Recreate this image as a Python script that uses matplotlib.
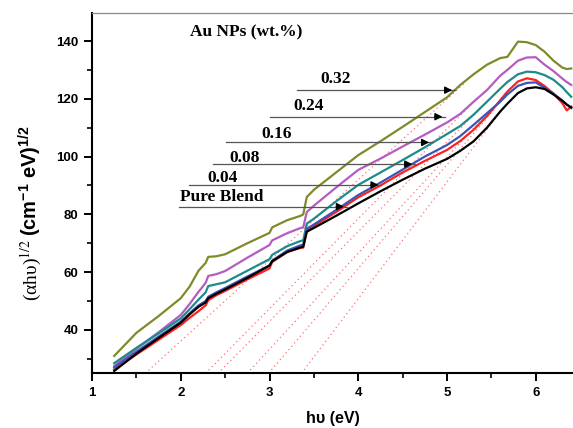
import matplotlib
matplotlib.use("Agg")
import matplotlib.pyplot as plt
from matplotlib.ticker import MultipleLocator

plt.rcParams['mathtext.fontset'] = 'custom'
plt.rcParams['mathtext.rm'] = 'Liberation Sans:bold'
plt.rcParams['mathtext.bf'] = 'Liberation Sans:bold'
plt.rcParams['mathtext.it'] = 'Liberation Sans:bold'

# photon energy grid (eV), shared by all curves
hv = [1.25, 1.5, 1.75, 2.0, 2.1, 2.2, 2.28, 2.31, 2.4, 2.5, 2.75, 3.0, 3.03, 3.2,
      3.35, 3.38, 3.42, 3.5, 3.75, 4.0, 4.25, 4.5, 4.75, 5.0, 5.15, 5.3, 5.45,
      5.6, 5.68, 5.8, 5.9, 6.0, 6.1, 6.2, 6.3, 6.35, 6.4]

au_032 = [31.0, 39.0, 44.8, 51.0, 55.0, 60.5, 63.2, 65.3, 65.5, 66.2, 70.0, 73.6, 75.5, 78.0,
          79.5, 80.0, 86.0, 88.5, 94.5, 100.5, 105.3, 110.3, 115.4, 120.5, 124.8, 128.5, 131.8,
          134.1, 134.5, 139.8, 139.6, 138.6, 136.3, 133.2, 130.8, 130.3, 130.5]
au_024 = [27.5, 33.5, 39.2, 45.2, 49.0, 53.2, 56.3, 58.7, 59.3, 60.4, 65.0, 69.4, 71.0, 73.5,
          75.3, 75.5, 80.8, 83.0, 89.3, 95.4, 99.3, 103.5, 107.6, 111.8, 114.8, 119.0, 123.0,
          128.0, 130.0, 133.2, 134.3, 134.4, 131.8, 129.6, 127.0, 125.8, 124.8]
au_016 = [28.5, 33.8, 38.8, 44.0, 47.2, 50.5, 53.0, 55.2, 55.8, 56.5, 60.5, 64.5, 66.0, 69.0,
          70.8, 71.0, 76.8, 78.5, 84.5, 90.2, 94.5, 98.8, 103.2, 107.8, 110.6, 114.5, 119.0,
          123.5, 125.8, 128.5, 129.4, 129.2, 128.2, 126.6, 124.0, 122.3, 120.7]
au_008 = [27.0, 32.5, 37.7, 42.9, 45.8, 48.5, 50.0, 51.5, 53.0, 54.5, 58.5, 62.3, 64.0, 67.5,
          69.3, 69.5, 75.0, 76.5, 81.5, 86.7, 91.0, 95.5, 100.0, 104.0, 107.1, 111.0, 115.0,
          119.0, 121.5, 124.5, 125.5, 125.7, 123.8, 121.8, 119.4, 118.0, 116.8]
au_004 = [26.3, 31.5, 36.6, 41.7, 44.2, 46.5, 48.5, 50.3, 52.0, 53.5, 57.5, 61.3, 63.5, 67.0,
          68.4, 68.5, 74.3, 76.0, 80.8, 85.9, 90.0, 94.5, 98.5, 102.3, 105.4, 109.3, 114.0,
          119.5, 122.5, 126.0, 127.1, 126.5, 124.4, 121.8, 118.5, 116.0, 117.3]
pure = [25.8, 31.8, 37.2, 42.5, 45.4, 48.0, 49.5, 51.0, 52.5, 54.0, 58.0, 62.3, 63.8, 67.0,
        68.6, 68.8, 74.0, 75.3, 79.5, 83.8, 88.0, 92.0, 95.8, 99.2, 102.0, 105.3, 110.0,
        115.6, 118.3, 122.0, 123.6, 124.0, 123.4, 121.5, 119.3, 118.0, 117.0]

series = [au_032, au_024, au_016, au_004, au_008, pure]
colors = ['#7f8a2a', '#b55cc0', '#1f8a8a', '#ff2020', '#3a55b5', '#000000']

# tangent (Tauc) lines: x where they leave the bottom axis, and end point
fit_y0 = 25.0
fit_x0 = [1.60, 2.28, 2.42, 2.75, 2.99, 3.36]
fit_x1 = [5.20, 5.35, 5.40, 5.50, 5.55, 5.65]
fit_y1 = [125.5, 120.5, 117.5, 116.5, 117.0, 117.5]

# labels with arrows
lab_text = ['0.32', '0.24', '0.16', '0.08', '0.04', 'Pure Blend']
lab_x = [3.568, 3.264, 2.914, 2.543, 2.295, 1.991]
lab_y = [125.5, 116.1, 106.4, 98.1, 91.2, 84.6]
arr_y = [123.0, 113.8, 104.9, 97.4, 90.2, 82.7]
arr_x0 = [3.31, 3.00, 2.51, 2.36, 2.09, 1.98]
arr_x1 = [5.09, 4.98, 4.83, 4.64, 4.26, 3.87]

fig = plt.figure(figsize=(5.73, 4.28), dpi=100)
ax = fig.add_axes([0.1606, 0.1285, 0.8394, 0.8411])

for x0, x1, y1 in zip(fit_x0, fit_x1, fit_y1):
    ax.plot([x0, x1], [fit_y0, y1], color='#ff7070', lw=0.9, ls=(0, (1, 2.5)), zorder=1)

for y, c in zip(series, colors):
    ax.plot(hv, y, color=c, lw=1.6, zorder=3)

for t, tx, ty, ay, a0, a1 in zip(lab_text, lab_x, lab_y, arr_y, arr_x0, arr_x1):
    ax.text(tx, ty, t, family='Liberation Serif', fontweight='bold', fontsize=12.5,
            ha='left', va='baseline', zorder=5)
    ax.plot([a0, a1], [ay, ay], color='#555555', lw=0.9, zorder=4)
    ax.annotate('', xy=(a1, ay), xytext=(a1 - 0.15, ay),
                arrowprops=dict(arrowstyle='-|>', color='black', lw=0.9, mutation_scale=11),
                zorder=6)

ax.text(2.104, 141.7, 'Au NPs (wt.%)', family='Liberation Serif', fontweight='bold',
        fontsize=12.5, ha='left', va='baseline')

ax.set_xlim(1, 6.42)
ax.set_ylim(25.1, 149.7)
ax.xaxis.set_major_locator(MultipleLocator(1))
ax.xaxis.set_minor_locator(MultipleLocator(0.5))
ax.yaxis.set_major_locator(MultipleLocator(20))
ax.yaxis.set_minor_locator(MultipleLocator(10))
ax.set_yticks([40, 60, 80, 100, 120, 140])
ax.tick_params(which='major', direction='out', length=6, width=1.4, pad=4)
ax.tick_params(which='minor', direction='out', length=3.5, width=1.2)
for lab in ax.get_xticklabels() + ax.get_yticklabels():
    lab.set_family('Liberation Sans')
    lab.set_fontweight('bold')
    lab.set_fontsize(9.5)

ax.spines['right'].set_visible(False)
ax.spines['top'].set_color('#888888')
ax.spines['top'].set_linewidth(0.9)
ax.spines['left'].set_linewidth(1.5)
ax.spines['bottom'].set_linewidth(1.5)

ax.set_xlabel('h\u03c5 (eV)', family='Liberation Sans', fontweight='bold', fontsize=11.5,
              va='top')
ax.xaxis.set_label_coords(0.5, -0.105)

# y label: serif part then bold sans part
t1 = fig.text(37 / 573, 1 - 301 / 428, '(\u03b1h\u03c5)$^{1/2}$', rotation=90,
              rotation_mode='anchor', ha='left', va='baseline',
              family='Liberation Serif', fontsize=14, math_fontfamily='stix')
fig.canvas.draw()
bb = t1.get_window_extent()
t2 = fig.text(37 / 573, (bb.y1 + 3) / 428, '(cm$^{-1}$ eV)$^{1/2}$', rotation=90,
              rotation_mode='anchor', ha='left', va='baseline',
              family='Liberation Sans', fontweight='bold', fontsize=14.5)

fig.savefig('out.png', dpi=100)
